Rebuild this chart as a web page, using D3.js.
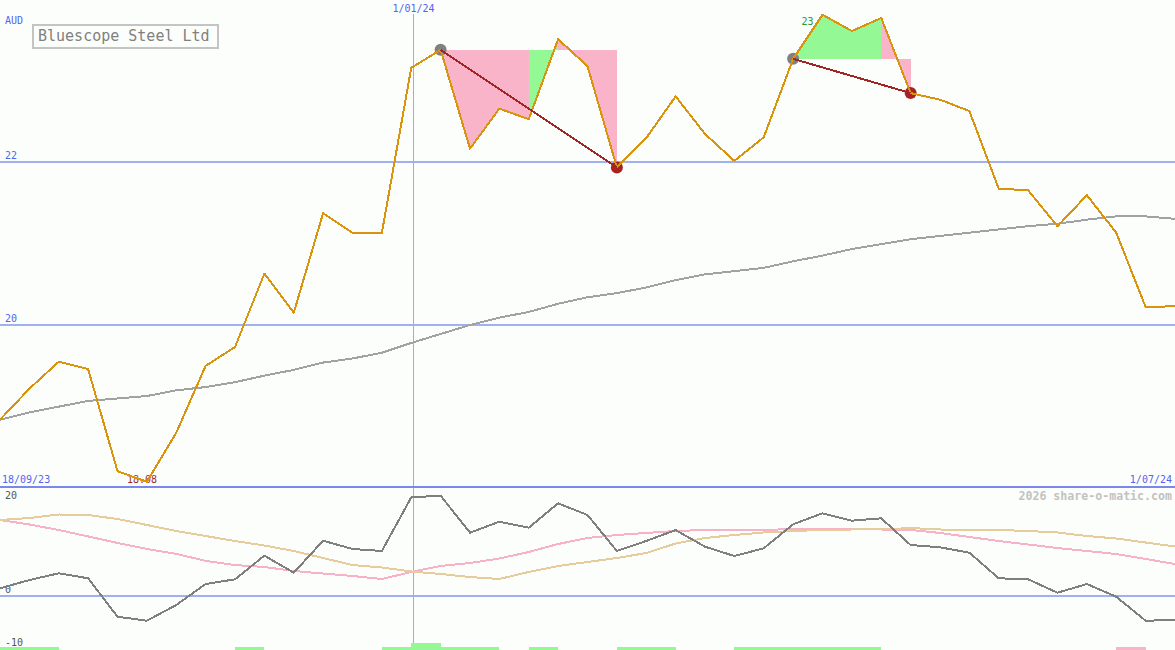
<!DOCTYPE html>
<html><head><meta charset="utf-8">
<script src="https://cdn.jsdelivr.net/npm/d3@7"></script>
<style>
html,body{margin:0;padding:0;background:#fcfefc;}
svg{display:block;}
text{font-family:"DejaVu Sans Mono",monospace;}
</style></head><body>
<svg id="chart" width="1175" height="650"></svg>
<script>
// ---------- data ----------
const title = "Bluescope Steel Ltd";
const currency = "AUD";
const watermark = "2026 share-o-matic.com";
const startDate = new Date(2023, 8, 24, 14);
const endDate = new Date(2024, 5, 30, 14);
const dateLabels = ["18/09/23", "1/01/24", "1/07/24"];
const markerDate = new Date(2024, 0, 1);
const priceTicks = [20, 22];
const oscTicks = [20, 0, -10];

const price = [18.84,19.22,19.55,19.46,18.21,18.08,18.68,19.50,19.73,20.63,20.15,21.37,21.13,21.13,23.15,23.37,22.16,22.65,22.52,23.50,23.17,21.93,22.29,22.80,22.34,22.01,22.30,23.26,23.80,23.60,23.76,22.84,22.76,22.62,21.67,21.65,21.21,21.59,21.13,20.22,20.23];
const movingAvg = [18.84,18.93,19.00,19.07,19.10,19.13,19.20,19.24,19.30,19.38,19.45,19.54,19.59,19.66,19.78,19.89,20.00,20.09,20.16,20.26,20.34,20.39,20.46,20.55,20.62,20.66,20.70,20.78,20.85,20.93,20.99,21.05,21.09,21.13,21.17,21.21,21.24,21.29,21.33,21.33,21.30];
const oscGray = [1.35,2.88,4.12,3.20,-3.87,-4.61,-1.72,2.15,3.01,7.36,4.23,10.12,8.59,8.22,18.10,18.40,11.59,13.61,12.51,17.00,14.85,8.22,10.07,12.07,9.01,7.30,8.72,13.13,15.16,13.80,14.24,9.32,8.90,7.91,3.20,3.01,0.54,2.15,-0.20,-4.61,-4.48];
const oscPink = [13.93,13.10,12.09,10.90,9.70,8.60,7.70,6.40,5.64,5.28,4.54,4.08,3.62,3.07,4.36,5.46,6.01,6.84,8.04,9.51,10.61,11.17,11.54,11.90,12.09,12.09,12.09,12.27,12.36,12.27,12.18,12.09,11.54,10.80,10.06,9.42,8.77,8.22,7.67,6.75,5.83];
const oscTan = [13.93,14.29,14.94,14.85,14.11,13.01,11.90,10.98,10.06,9.23,8.22,6.93,5.64,5.18,4.45,3.99,3.43,3.07,4.36,5.46,6.20,6.93,7.85,9.60,10.61,11.17,11.63,11.90,12.09,12.18,12.18,12.45,12.18,12.09,12.09,11.90,11.63,10.98,10.52,9.78,9.05];
// weekly signal bars (one per interval): 1 = buy, 2 = strong buy, -1 = sell
const signal = [1,1,0,0,0,0,0,0,1,0,0,0,0,1,2,1,1,0,1,0,0,1,1,0,0,1,1,1,1,1,0,0,0,0,0,0,0,0,-1,0];
const tradeBuy = [15, 27];
const tradeSell = [21, 31];
const tradeSegUp = [[0,0,0,1,0,0],[1,1,1,0]];

// ---------- setup ----------
const W = 1175, H = 650;
const svg = d3.select("#chart");
svg.append("rect").attr("width", W).attr("height", H).attr("fill", "#fcfefc");

const x = d3.scaleLinear().domain([0, price.length - 1]).range([0, W]);
const xt = d3.scaleTime().domain([startDate, endDate]).range([0, W]);
const y = d3.scaleLinear().domain([18, 24]).range([488.3, -1.6]);
const yo = d3.scaleLinear().domain([-10, 20]).range([650, 487]);

const blue = "#5264f2", grid = "#a3b0f0";

// price grid
priceTicks.forEach(t => {
  svg.append("line").attr("x1", 0).attr("x2", W).attr("y1", y(t)).attr("y2", y(t))
    .attr("stroke", grid).attr("stroke-width", 2).attr("shape-rendering", "crispEdges");
  svg.append("text").attr("x", 5).attr("y", y(t) - 3).attr("fill", blue)
    .attr("font-size", 10).text(t);
});
// oscillator zero line
svg.append("line").attr("x1", 0).attr("x2", W).attr("y1", yo(0)).attr("y2", yo(0))
  .attr("stroke", grid).attr("stroke-width", 2).attr("shape-rendering", "crispEdges");
oscTicks.forEach(t => {
  const ty = Math.min(Math.max(yo(t) - 3, yo(20) + 12), yo(-10) - 4);
  svg.append("text").attr("x", 5).attr("y", ty).attr("fill", "#555")
    .attr("font-size", 10).text(t);
});
// vertical date marker
const mx = Math.round(xt(markerDate)) + 0.5;
svg.append("line").attr("x1", mx).attr("x2", mx).attr("y1", 14).attr("y2", H)
  .attr("stroke", "#9aabf4").attr("stroke-width", 1);
svg.append("text").attr("x", mx).attr("y", 12).attr("text-anchor", "middle")
  .attr("fill", blue).attr("font-size", 10).text(dateLabels[1]);

// separator
svg.append("line").attr("x1", 0).attr("x2", W).attr("y1", yo(20)).attr("y2", yo(20))
  .attr("stroke", "#7b87ea").attr("stroke-width", 2.5).attr("shape-rendering", "crispEdges");
svg.append("text").attr("x", xt.range()[0] + 2).attr("y", yo(20) - 4).attr("fill", blue)
  .attr("font-size", 10).text(dateLabels[0]);
svg.append("text").attr("x", xt.range()[1] - 3).attr("y", yo(20) - 4).attr("fill", blue)
  .attr("text-anchor", "end").attr("font-size", 10).text(dateLabels[2]);

// currency & title
svg.append("text").attr("x", 5).attr("y", 24).attr("fill", blue).attr("font-size", 10).text(currency);
svg.append("rect").attr("x", 33).attr("y", 25).attr("width", 185).attr("height", 23)
  .attr("fill", "none").attr("stroke", "#c4c4c4").attr("stroke-width", 2);
svg.append("text").attr("x", 38).attr("y", 41).attr("fill", "#808080").attr("font-size", 15).text(title);

// watermark
svg.append("text").attr("x", W - 3).attr("y", 500).attr("text-anchor", "end")
  .attr("fill", "#c2c2c2").attr("font-size", 11.6).attr("font-weight", "bold").text(watermark);

// high / low labels
const iMin = d3.minIndex(price), iMax = d3.maxIndex(price);
svg.append("text").attr("x", x(iMin) - 20).attr("y", y(price[iMin]) + 1.5)
  .attr("fill", "#a02828").attr("font-size", 10).text(String(price[iMin]));
svg.append("text").attr("x", x(iMax) - 21).attr("y", y(price[iMax]) + 10)
  .attr("fill", "#2a9a2a").attr("font-size", 10).text(String(price[iMax]));

// trade fills
tradeBuy.forEach((b, k) => {
  const ref = price[b];
  for (let i = b; i < tradeSell[k]; i++) {
    const pts = [[x(i), y(ref)], [x(i), y(price[i])], [x(i + 1), y(price[i + 1])], [x(i + 1), y(ref)]];
    svg.append("path").attr("d", "M" + pts.join("L") + "Z")
      .attr("fill", tradeSegUp[k][i - b] ? "#94f894" : "#f9b4c9")
      .attr("shape-rendering", "crispEdges");
  }
});

const line = d3.line().x((d, i) => x(i)).y(d => y(d));
svg.append("path").datum(movingAvg).attr("d", line).attr("fill", "none")
  .attr("stroke", "#a2a2a2").attr("stroke-width", 2).attr("shape-rendering", "crispEdges");

// trade circles
tradeBuy.forEach(b => svg.append("circle").attr("cx", x(b)).attr("cy", y(price[b])).attr("r", 6).attr("fill", "#808080"));
tradeSell.forEach(s => svg.append("circle").attr("cx", x(s)).attr("cy", y(price[s])).attr("r", 6).attr("fill", "#a82222"));

// price line
svg.append("path").datum(price).attr("d", line).attr("fill", "none")
  .attr("stroke", "#d9930c").attr("stroke-width", 2).attr("stroke-linejoin", "round")
  .attr("shape-rendering", "crispEdges");

// trade lines
tradeBuy.forEach((b, k) => {
  const s = tradeSell[k];
  svg.append("line").attr("x1", x(b)).attr("y1", y(price[b])).attr("x2", x(s)).attr("y2", y(price[s]))
    .attr("stroke", "#a32424").attr("stroke-width", 2).attr("shape-rendering", "crispEdges");
});

// oscillator panel
const oline = d3.line().x((d, i) => x(i)).y(d => yo(d));
[[oscPink, "#f8b2c8"], [oscTan, "#e6cc9c"], [oscGray, "#7f7f7f"]].forEach(([d, c]) => {
  svg.append("path").datum(d).attr("d", oline).attr("fill", "none")
    .attr("stroke", c).attr("stroke-width", 2).attr("shape-rendering", "crispEdges");
});

// signal bars
signal.forEach((s, i) => {
  if (!s) return;
  const h = Math.abs(s) * 3.3;
  svg.append("rect").attr("x", x(i)).attr("width", x(i + 1) - x(i))
    .attr("y", H - h).attr("height", h)
    .attr("fill", s > 0 ? "#94f894" : "#f9b4c9").attr("shape-rendering", "crispEdges");
});
</script>
</body></html>
